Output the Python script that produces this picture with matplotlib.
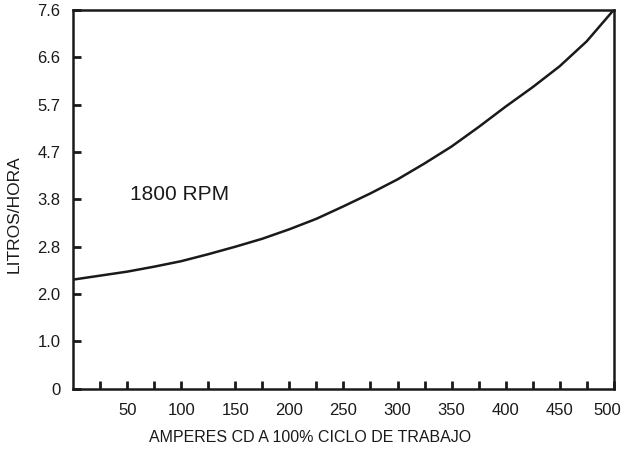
import numpy as np
import matplotlib.pyplot as plt
from matplotlib.transforms import ScaledTranslation

plt.rcParams['font.family'] = ['Liberation Sans', 'DejaVu Sans']

# consumo de combustible
amperes = [0, 25, 50, 75, 100, 125, 150, 175, 200, 225, 250,
           275, 300, 325, 350, 375, 400, 425, 450, 475, 500]
litros = [2.19, 2.27, 2.35, 2.45, 2.56, 2.70, 2.85, 3.01, 3.20, 3.41, 3.66,
          3.92, 4.20, 4.52, 4.86, 5.25, 5.66, 6.05, 6.47, 6.97, 7.6]

y_labels = ['0', '1.0', '2.0', '2.8', '3.8', '4.7', '5.7', '6.6', '7.6']
x_labels = ['50', '100', '150', '200', '250', '300', '350', '400', '450', '500']

fig = plt.figure(figsize=(6.25, 4.5), dpi=100)
ax = fig.add_axes([0.117, 0.136, 0.865, 0.842])

ax.plot(amperes, litros, color='#1a1a1a', lw=1.8, solid_joinstyle='round')

ax.set_xlim(0, 500)
ax.set_ylim(0, 7.6)

ax.set_yticks(np.arange(9) * 7.6 / 8)
ax.set_yticklabels(y_labels)
ax.set_xticks(np.arange(50, 501, 50))
ax.set_xticklabels(x_labels)
ax.set_xticks(np.arange(25, 500, 50), minor=True)

ax.tick_params(axis='both', which='both', direction='in', length=6, width=2,
               color='#1a1a1a', labelsize=12, labelcolor='#1a1a1a')
ax.tick_params(axis='y', pad=9)
ax.tick_params(axis='x', pad=10)

# el ultimo numero se corre un poco para que quepa
last = ax.get_xticklabels()[-1]
last.set_transform(last.get_transform() + ScaledTranslation(-5 / 72, 0, fig.dpi_scale_trans))

for s in ax.spines.values():
    s.set_linewidth(1.8)
    s.set_color('#1a1a1a')

ax.set_xlabel('AMPERES CD A 100% CICLO DE TRABAJO', fontsize=11.5, color='#1a1a1a')
ax.xaxis.set_label_coords(0.438, -0.108)
ax.set_ylabel('LITROS/HORA', fontsize=12.5, color='#1a1a1a')
ax.yaxis.set_label_coords(-0.096, 0.46)

ax.text(98, 3.9, '1800 RPM', fontsize=15, color='#1a1a1a', ha='center', va='center')

fig.savefig('out.png', dpi=100)
